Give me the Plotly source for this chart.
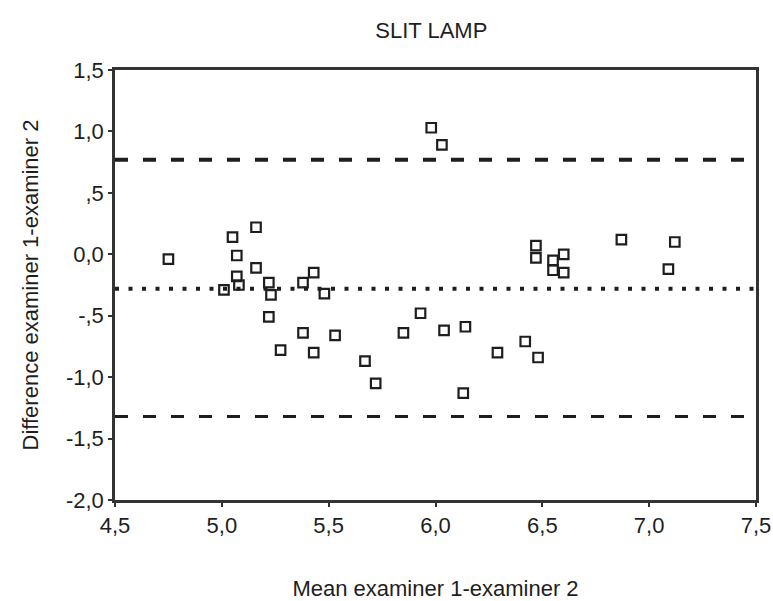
import plotly.graph_objects as go

mean_x = [4.75, 5.05, 5.07, 5.16, 5.16, 5.07, 5.08, 5.01, 5.22, 5.23,
          5.38, 5.43, 5.48, 5.22, 5.38, 5.53, 5.275, 5.43, 5.67, 5.72,
          5.85, 5.93, 5.98, 6.03, 6.04, 6.14, 6.13, 6.29, 6.42, 6.48,
          6.47, 6.47, 6.55, 6.55, 6.60, 6.60, 6.87, 7.12, 7.09]
diff_y = [-0.04, 0.14, -0.01, 0.22, -0.11, -0.18, -0.25, -0.29, -0.23, -0.33,
          -0.23, -0.15, -0.32, -0.51, -0.64, -0.66, -0.78, -0.80, -0.87, -1.05,
          -0.64, -0.48, 1.03, 0.89, -0.62, -0.59, -1.13, -0.80, -0.71, -0.84,
          0.07, -0.03, -0.05, -0.13, 0.00, -0.15, 0.12, 0.10, -0.12]

mean_diff = -0.28
upper_loa = 0.77
lower_loa = -1.32

x_range = [4.5, 7.5]
y_range = [-2.0, 1.5]
x_ticks = [4.5, 5.0, 5.5, 6.0, 6.5, 7.0, 7.5]
x_ticktext = ["4,5", "5,0", "5,5", "6,0", "6,5", "7,0", "7,5"]
y_ticks = [1.5, 1.0, 0.5, 0.0, -0.5, -1.0, -1.5, -2.0]
y_ticktext = ["1,5", "1,0", ",5", "0,0", "-,5", "-1,0", "-1,5", "-2,0"]

FONT = "Liberation Sans, Arial, sans-serif"
INK = "#1e1e1e"
FS = 22

fig = go.Figure()

fig.add_trace(go.Scatter(x=x_range, y=[upper_loa, upper_loa], mode="lines",
                         line=dict(color=INK, width=4, dash="13px,15px"),
                         hoverinfo="skip", showlegend=False))
fig.add_trace(go.Scatter(x=x_range, y=[mean_diff, mean_diff], mode="lines",
                         line=dict(color=INK, width=4, dash="4px,9.5px"),
                         hoverinfo="skip", showlegend=False))
fig.add_trace(go.Scatter(x=x_range, y=[lower_loa, lower_loa], mode="lines",
                         line=dict(color=INK, width=3, dash="13px,15px"),
                         hoverinfo="skip", showlegend=False))

fig.add_trace(go.Scatter(x=mean_x, y=diff_y, mode="markers",
                         marker=dict(symbol="square-open", size=9.5,
                                     color=INK, line=dict(width=2.2, color=INK)),
                         showlegend=False))

fig.update_layout(
    width=773, height=601,
    margin=dict(l=115, r=17, t=70, b=101, autoexpand=False),
    paper_bgcolor="white", plot_bgcolor="white",
    font=dict(family=FONT, size=FS, color=INK),
    title=dict(text="SLIT LAMP", x=0.558, xanchor="center", y=0.95, yanchor="middle",
               font=dict(family=FONT, size=FS, color=INK)),
    showlegend=False,
)
fig.update_xaxes(range=x_range, tickvals=x_ticks, ticktext=x_ticktext,
                 automargin=False, ticklabeloverflow="allow",
                 showgrid=False, zeroline=False, showline=True, linecolor="#333",
                 linewidth=2.5, mirror=True, ticks="outside", ticklen=4,
                 tickwidth=1.5, tickcolor="#333",
                 tickfont=dict(family=FONT, size=FS, color=INK),
                 title=dict(text="Mean examiner 1-examiner 2", standoff=44,
                            font=dict(family=FONT, size=FS, color=INK)))
fig.update_yaxes(range=y_range, tickvals=y_ticks, ticktext=y_ticktext,
                 automargin=False, ticklabeloverflow="allow",
                 showgrid=False, zeroline=False, showline=True, linecolor="#333",
                 linewidth=2.5, mirror=True, ticks="outside", ticklen=4,
                 tickwidth=1.5, tickcolor="#333",
                 tickfont=dict(family=FONT, size=FS, color=INK),
                 title=dict(text="Difference examiner 1-examiner 2", standoff=22,
                            font=dict(family=FONT, size=FS, color=INK)))

fig.write_html("out.html", config={"displayModeBar": False},
               post_script="document.body.style.margin='0';document.body.style.overflow='hidden';")
